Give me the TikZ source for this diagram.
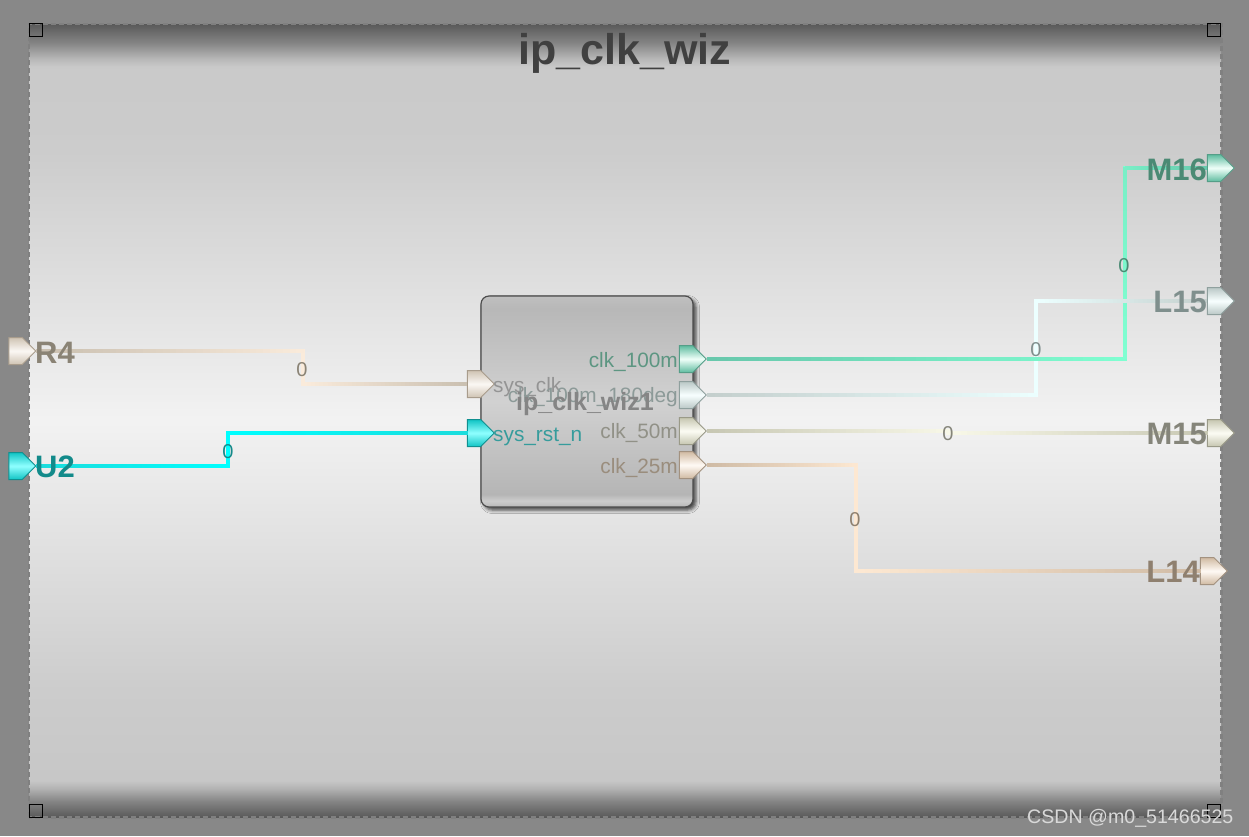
\documentclass[tikz,border=0pt]{standalone}
\usepackage{fontspec}
\setmainfont{Liberation Sans}
\usetikzlibrary{calc,shapes.symbols,shadows.blur}
\pgfdeclareverticalshading{bgshade}{100bp}{rgb(0bp)=(.35,.35,.35);rgb(25bp)=(.35,.35,.35);rgb(26bp)=(.52,.52,.52);rgb(26.8bp)=(.70,.70,.70);rgb(27.3bp)=(.78,.78,.78);rgb(33bp)=(.80,.80,.80);rgb(50bp)=(.95,.95,.95);rgb(67bp)=(.80,.80,.80);rgb(72.3bp)=(.79,.79,.79);rgb(72.8bp)=(.72,.72,.72);rgb(73.8bp)=(.52,.52,.52);rgb(75bp)=(.35,.35,.35);rgb(100bp)=(.35,.35,.35)}
\pgfdeclareverticalshading{blockshade}{100bp}{rgb(0bp)=(.72,.72,.72);rgb(25bp)=(.72,.72,.72);rgb(26.5bp)=(.80,.80,.80);rgb(28bp)=(.71,.71,.71);rgb(50bp)=(.82,.82,.82);rgb(72bp)=(.72,.72,.72);rgb(75bp)=(.75,.75,.75);rgb(100bp)=(.75,.75,.75)}
\definecolor{outer}{HTML}{888888}
\definecolor{rA}{HTML}{C9BFB0}\definecolor{rB}{HTML}{FAEBDB}
\definecolor{uA}{HTML}{1CDCDC}\definecolor{uB}{HTML}{00FFFF}
\definecolor{aA}{HTML}{68C8AC}\definecolor{aB}{HTML}{80FFD2}
\definecolor{bA}{HTML}{C4CFCD}\definecolor{bB}{HTML}{ECFFFF}
\definecolor{cA}{HTML}{C8C8B4}\definecolor{cB}{HTML}{F8F8E8}
\definecolor{dA}{HTML}{CFBBA5}\definecolor{dB}{HTML}{FDE8D2}
% port colours: outline, edge, middle
\definecolor{rO}{HTML}{A89C8C}\definecolor{rE}{HTML}{CFC3B3}\definecolor{rM}{HTML}{FBF8F4}
\definecolor{uO}{HTML}{109090}\definecolor{uE}{HTML}{10C4C4}\definecolor{uM}{HTML}{90FFFF}
\definecolor{aO}{HTML}{559E88}\definecolor{aE}{HTML}{5EBC9F}\definecolor{aM}{HTML}{F0FFF9}
\definecolor{bO}{HTML}{8FA09E}\definecolor{bE}{HTML}{BAC8C6}\definecolor{bM}{HTML}{F8FFFF}
\definecolor{cO}{HTML}{9A9A88}\definecolor{cE}{HTML}{C6C6B0}\definecolor{cM}{HTML}{FCFCF4}
\definecolor{dO}{HTML}{A39280}\definecolor{dE}{HTML}{D0BAA2}\definecolor{dM}{HTML}{FFFAF5}
% text colours
\definecolor{rT}{HTML}{8A8375}\definecolor{uT}{HTML}{128A8A}\definecolor{aT}{HTML}{4B8A74}
\definecolor{bT}{HTML}{7F8F8D}\definecolor{cT}{HTML}{85857A}\definecolor{dT}{HTML}{8F806F}
\newcommand{\fsz}[1]{\fontsize{#1}{#1}\selectfont}
\newcommand{\gseg}[4]{%
  \foreach \i in {0,...,39}{%
    \pgfmathsetmacro{\pct}{\i*2.5}%
    \pgfmathsetmacro{\tA}{\i/40}%
    \pgfmathsetmacro{\tB}{(\i+1.15)/40}%
    \draw[wire,color={#4!\pct!#3}] ($(#1)!\tA!(#2)$) -- ($(#1)!\tB!(#2)$);%
  }%
}
\tikzset{
  wire/.style={line width=4pt,line cap=butt,line join=miter},
  portnode/.style={signal,signal to=east,signal pointer angle=90,
    minimum width=27pt,minimum height=27pt,inner sep=0pt,line width=1pt,
    draw=#1O,top color=#1E,bottom color=#1E,middle color=#1M},
  pinlabel/.style={inner sep=0pt,font=\fsz{31}\bfseries},
  portlabel/.style={inner sep=0pt,font=\fsz{20.8}},
  zerolabel/.style={inner sep=0pt,font=\fsz{20},anchor=base},
  handle/.style={draw=black,line width=1pt,minimum width=13pt,minimum height=13pt,inner sep=0pt},
}
\begin{document}
\begin{tikzpicture}[x=1pt,y=-1pt]
\useasboundingbox (0,0) rectangle (1249,836);
\fill[outer] (0,0) rectangle (1249,836);
\node[draw=none,shading=bgshade,minimum width=1192pt,minimum height=793pt,inner sep=0pt] (canvas) at (625,420.5) {};
\draw[color=black!50,line width=2.6pt,dash pattern=on 5pt off 3pt] (canvas.south west) rectangle (canvas.north east);
\node[handle] (h1) at (35.5,29.5) {};
\node[handle] (h2) at (1213.5,29.5) {};
\node[handle] (h3) at (35.5,810.5) {};
\node[handle] (h4) at (1213.5,810.5) {};
\node[anchor=base,inner sep=0pt,font=\fsz{43}\bfseries,text=black!75] (title) at (625,64) {ip\_clk\_wiz};
% corners
\coordinate (r1) at (303,351); \coordinate (r2) at (303,384);
\coordinate (u1) at (228,466); \coordinate (u2) at (228,433);
\coordinate (a1) at (1125,359); \coordinate (a2) at (1125,168);
\coordinate (b1) at (1036,395); \coordinate (b2) at (1036,301);
\coordinate (c1) at (948,431); \coordinate (c2) at (948,433);
\coordinate (d1) at (856,465); \coordinate (d2) at (856,571);
% block
\node[rectangle,rounded corners=8pt,minimum width=212pt,minimum height=211pt,inner sep=0pt,
  draw=black!70,line width=1.2pt,shading=blockshade,
  blur shadow={shadow xshift=3pt,shadow yshift=-3pt,shadow blur radius=3.5pt,shadow opacity=70}] (blk) at (587,401.5) {};
% ports
\node[portnode=r] (R4) at (15.5,351) {};
\node[portnode=u] (U2) at (15.5,466) {};
\node[portnode=r] (sysclk) at (474,384) {};
\node[portnode=u] (sysrst) at (474,433) {};
\node[portnode=a] (clka) at (686,359) {};
\node[portnode=b] (clkb) at (686,395) {};
\node[portnode=c] (clkc) at (686,431) {};
\node[portnode=d] (clkd) at (686,465) {};
\node[portnode=a] (M16) at (1214,168) {};
\node[portnode=b] (L15) at (1214,301) {};
\node[portnode=c] (M15) at (1214,433) {};
\node[portnode=d] (L14) at (1207,571) {};
% connectors
\draw[wire,color=rB] (R4.east) -- (r1) -- (r2) -- (sysclk.west);
\draw[wire,color=uB] (U2.east) -- (u1) -- (u2) -- (sysrst.west);
\draw[wire,color=aB] (clka.east) -- (a1) -- (a2) -- (M16.west);
\draw[wire,color=bB] (clkb.east) -- (b1) -- (b2) -- (L15.west);
\draw[wire,color=cB] (clkc.east) -- (c1) -- (c2) -- (M15.west);
\draw[wire,color=dB] (clkd.east) -- (d1) -- (d2) -- (L14.west);
\gseg{R4.east}{r1}{rA}{rB}
\gseg{r2}{sysclk.west}{rB}{rA}
\gseg{U2.east}{u1}{uA}{uB}
\gseg{u2}{sysrst.west}{uB}{uA}
\gseg{clka.east}{a1}{aA}{aB}
\gseg{a1}{a2}{aB}{aB!70!aA}
\gseg{a2}{M16.west}{aB!70!aA}{aA}
\gseg{clkb.east}{b1}{bA}{bB}
\gseg{b2}{L15.west}{bB}{bA}
\gseg{clkc.east}{c1}{cA}{cB}
\gseg{c2}{M15.west}{cB}{cA}
\gseg{clkd.east}{d1}{dA}{dB}
\gseg{d2}{L14.west}{dB}{dA}
% pin labels
\node[pinlabel,anchor=base west,text=rT] (tR4) at (35,363) {R4};
\node[pinlabel,anchor=base west,text=uT] (tU2) at (35,477) {U2};
\node[pinlabel,anchor=base east,text=aT] (tM16) at (1207,180) {M16};
\node[pinlabel,anchor=base east,text=bT] (tL15) at (1207,312) {L15};
\node[pinlabel,anchor=base east,text=cT] (tM15) at (1207,444) {M15};
\node[pinlabel,anchor=base east,text=dT] (tL14) at (1200,582) {L14};
% port labels
\node[portlabel,anchor=base west,text=black!42] (tsc) at (493,392) {sys\_clk};
\node[portlabel,anchor=base west,text=uT!85!white] (tsr) at (493,441) {sys\_rst\_n};
\node[portlabel,anchor=base east,text=aT!90!white] (tca) at (678,367) {clk\_100m};
\node[portlabel,anchor=base east,text=bT!90!white] (tcb) at (678,402) {clk\_100m\_180deg};
\node[portlabel,anchor=base east,text=cT!90!white] (tcc) at (678,438) {clk\_50m};
\node[portlabel,anchor=base east,text=dT!90!white] (tcd) at (678,473) {clk\_25m};
\node[anchor=base,inner sep=0pt,font=\fsz{25}\bfseries,text=black!48] (tblk) at (585,410) {ip\_clk\_wiz1};
% net labels
\node[zerolabel,text=rT] (z1) at (302,376) {0};
\node[zerolabel,text=uT] (z2) at (228,458) {0};
\node[zerolabel,text=aT] (z3) at (1124,272) {0};
\node[zerolabel,text=bT] (z4) at (1036,356) {0};
\node[zerolabel,text=cT] (z5) at (948,440) {0};
\node[zerolabel,text=dT] (z6) at (855,526) {0};
% watermark
\node[anchor=base west,inner sep=0pt,font=\fsz{19.6},text=black!15] (wm) at (1027,823) {CSDN @m0\_51466525};
\end{tikzpicture}
\end{document}
